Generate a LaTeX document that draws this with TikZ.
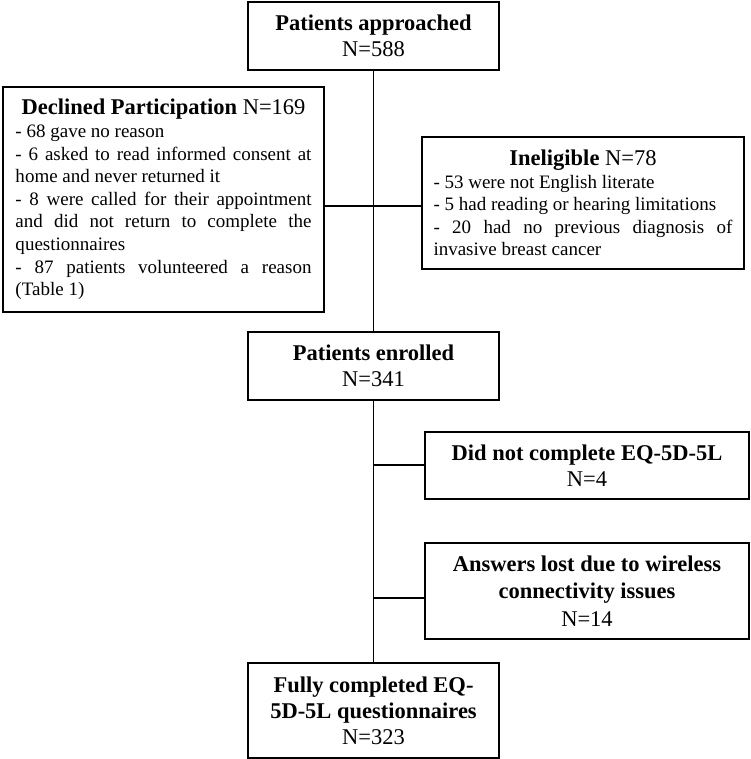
\documentclass[tikz,border=0pt]{standalone}
\usepackage{fontspec}
\setmainfont{Liberation Serif}
\setlength{\parindent}{0pt}
\hyphenpenalty=10000
\exhyphenpenalty=10000
\begin{document}
\begin{tikzpicture}[x=1pt,y=-1pt,
  box/.style={draw=black, line width=1.4pt, rectangle, inner sep=0pt, align=center,
    font=\fontsize{22.5}{26}\selectfont},
  listbox/.style={draw=black, line width=1.4pt, rectangle, inner sep=0pt, align=justify,
    font=\fontsize{19}{22.6}\selectfont},
  conn/.style={draw=black, line width=1.4pt}]
\useasboundingbox (0,0) rectangle (750,759);

\node[box, minimum width=251pt, minimum height=68pt] (appr) at (373.5,36)
  {\textbf{Patients approached}\\N=588};

\node[listbox, minimum width=321pt, minimum height=225pt, text width=296pt] (decl) at (163.5,199.5)
  {{\centering\fontsize{22.5}{27}\selectfont\textbf{Declined Participation} N=169\par}
   - 68 gave no reason\par
   - 6 asked to read informed consent at home and never returned it\par
   - 8 were called for their appointment and did not return to complete the questionnaires\par
   - 87 patients volunteered a reason (Table 1)\par};

\node[listbox, minimum width=322pt, minimum height=132pt, text width=299pt] (inel) at (583,203)
  {{\centering\fontsize{22.5}{25}\selectfont\textbf{Ineligible} N=78\par}
   - 53 were not English literate\par
   - 5 had reading or hearing limitations\par
   - 20 had no previous diagnosis of invasive breast cancer\par};

\node[box, minimum width=251pt, minimum height=68pt] (enr) at (373.5,366)
  {\textbf{Patients enrolled}\\N=341};

\node[box, minimum width=324pt, minimum height=67pt] (dnc) at (587,465.5)
  {\textbf{Did not complete EQ-5D-5L}\\N=4};

\node[box, minimum width=324pt, minimum height=96pt, font=\fontsize{22.5}{27.5}\selectfont] (lost) at (587,591)
  {\textbf{Answers lost due to wireless}\\\textbf{connectivity issues}\\N=14};

\node[box, minimum width=251pt, minimum height=95pt] (full) at (373.5,710.5)
  {\textbf{Fully completed EQ-}\\\textbf{5D-5L questionnaires}\\N=323};

\coordinate (j1) at (374,206);
\coordinate (j2) at (374,465);
\coordinate (j3) at (374,598);

\draw[conn] (appr.south) -- (enr.north);
\draw[conn] (enr.south) -- (full.north);
\draw[conn] (j1 -| decl.east) -- (j1 -| inel.west);
\draw[conn] (j2) -- (j2 -| dnc.west);
\draw[conn] (j3) -- (j3 -| lost.west);
\end{tikzpicture}
\end{document}
